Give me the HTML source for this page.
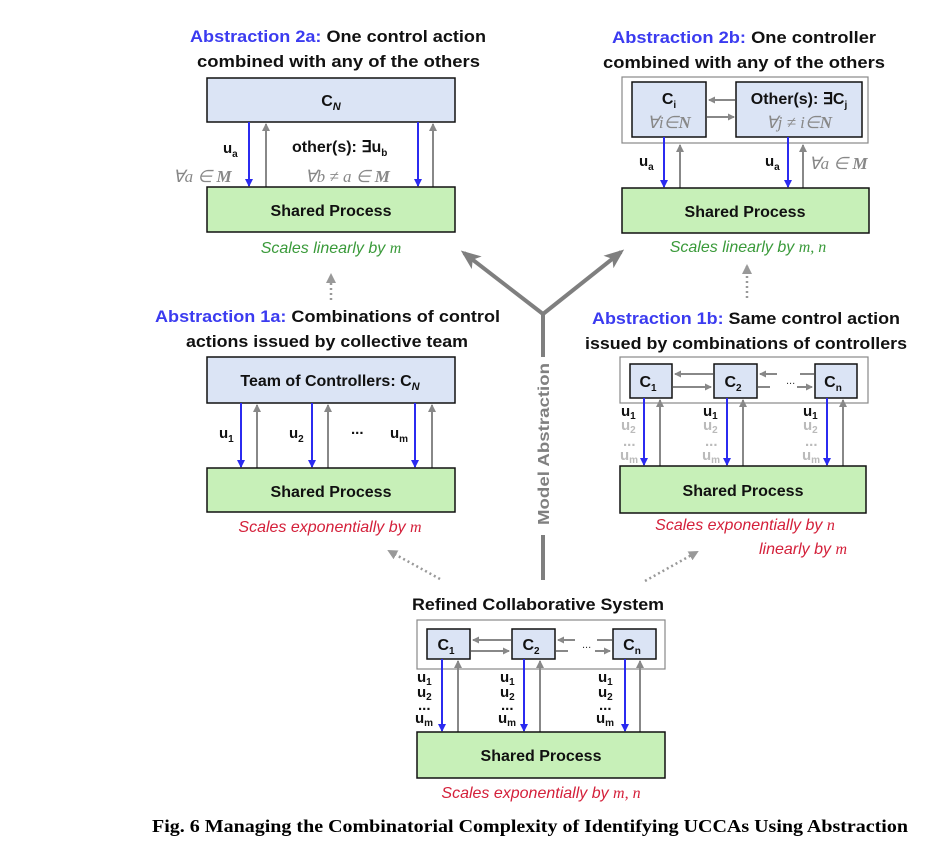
<!DOCTYPE html>
<html><head><meta charset="utf-8"><style>
html,body{margin:0;padding:0;background:#fff;}
svg{display:block;}
.t{font-family:"Liberation Sans",sans-serif;font-weight:bold;font-size:17px;fill:#111;}
.b{fill:#3b3bf0;}
.box{font-family:"Liberation Sans",sans-serif;font-weight:bold;font-size:16px;fill:#111;}
.sc{font-family:"Liberation Sans",sans-serif;font-style:italic;font-size:16px;}
.m{font-family:"Liberation Serif",serif;font-style:italic;font-size:17px;fill:#888;}
.u{font-family:"Liberation Sans",sans-serif;font-weight:bold;font-size:15px;fill:#111;}
.ug{font-family:"Liberation Sans",sans-serif;font-weight:bold;font-size:15px;fill:#bbb;}
</style></head><body>
<svg width="933" height="841" viewBox="0 0 933 841" xmlns="http://www.w3.org/2000/svg">
<defs>
<marker id="ab" markerWidth="8" markerHeight="8" refX="7" refY="4" orient="auto" markerUnits="userSpaceOnUse" viewBox="0 0 8 8"><path d="M0,0 L8,4 L0,8z" fill="#2b2bf0"/></marker>
<marker id="ag" markerWidth="8" markerHeight="8" refX="7" refY="4" orient="auto" markerUnits="userSpaceOnUse" viewBox="0 0 8 8"><path d="M0,0 L8,4 L0,8z" fill="#888"/></marker>
<marker id="ah" markerWidth="7" markerHeight="7" refX="6" refY="3.5" orient="auto" markerUnits="userSpaceOnUse" viewBox="0 0 7 7"><path d="M0,0 L7,3.5 L0,7z" fill="#888"/></marker>
<marker id="big" markerWidth="20" markerHeight="16" refX="16" refY="8" orient="auto" markerUnits="userSpaceOnUse" viewBox="0 0 20 16"><path d="M0,0 L20,8 L0,16 L5,8z" fill="#7f7f7f"/></marker>
<marker id="dot" markerWidth="10" markerHeight="10" refX="8" refY="5" orient="auto" markerUnits="userSpaceOnUse" viewBox="0 0 10 10"><path d="M0,0 L10,5 L0,10z" fill="#999"/></marker>
</defs>

<!-- ===== 2a ===== -->
<text class="t" x="190" y="42" textLength="296" lengthAdjust="spacingAndGlyphs"><tspan class="b">Abstraction 2a:</tspan> One control action</text>
<text class="t" x="197" y="67" textLength="283" lengthAdjust="spacingAndGlyphs">combined with any of the others</text>
<rect x="207" y="78" width="248" height="44" fill="#dbe4f5" stroke="#111" stroke-width="1.5"/>
<text class="box" x="331" y="106" text-anchor="middle">C<tspan font-size="11" dy="4" font-style="italic">N</tspan></text>
<line x1="249" y1="122" x2="249" y2="186" stroke="#2b2bf0" stroke-width="2" marker-end="url(#ab)"/>
<line x1="266" y1="187" x2="266" y2="124" stroke="#888" stroke-width="2" marker-end="url(#ag)"/>
<line x1="418" y1="122" x2="418" y2="186" stroke="#2b2bf0" stroke-width="2" marker-end="url(#ab)"/>
<line x1="433" y1="187" x2="433" y2="124" stroke="#888" stroke-width="2" marker-end="url(#ag)"/>
<text class="u" x="223" y="153">u<tspan font-size="10" dy="4">a</tspan></text>
<text class="m" x="173" y="182">∀a ∈ <tspan font-weight="bold">M</tspan></text>
<text class="box" x="292" y="152" font-size="17">other(s): ∃u<tspan font-size="10" dy="4">b</tspan></text>
<text class="m" x="305" y="182">∀b ≠ a ∈ <tspan font-weight="bold">M</tspan></text>
<rect x="207" y="187" width="248" height="45" fill="#c7f0b8" stroke="#111" stroke-width="1.5"/>
<text class="box" x="331" y="216" text-anchor="middle">Shared Process</text>
<text class="sc" x="331" y="253" text-anchor="middle" fill="#3a9a3a">Scales linearly by <tspan font-family="Liberation Serif">m</tspan></text>

<!-- ===== 2b ===== -->
<text class="t" x="612" y="43" textLength="264" lengthAdjust="spacingAndGlyphs"><tspan class="b">Abstraction 2b:</tspan> One controller</text>
<text class="t" x="603" y="68" textLength="282" lengthAdjust="spacingAndGlyphs">combined with any of the others</text>
<rect x="622" y="77" width="246" height="66" fill="#fff" stroke="#888" stroke-width="1.2"/>
<rect x="632" y="82" width="74" height="55" fill="#dbe4f5" stroke="#111" stroke-width="1.5"/>
<rect x="736" y="82" width="126" height="55" fill="#dbe4f5" stroke="#111" stroke-width="1.5"/>
<text class="box" x="669" y="104" text-anchor="middle">C<tspan font-size="10" dy="4">i</tspan></text>
<text class="m" x="669" y="128" text-anchor="middle">∀i∈<tspan font-weight="bold">N</tspan></text>
<text class="box" x="799" y="104" text-anchor="middle">Other(s): ∃C<tspan font-size="10" dy="4">j</tspan></text>
<text class="m" x="799" y="128" text-anchor="middle">∀j ≠ i∈<tspan font-weight="bold">N</tspan></text>
<line x1="735" y1="100" x2="709" y2="100" stroke="#888" stroke-width="2" marker-end="url(#ah)"/>
<line x1="707" y1="117" x2="734" y2="117" stroke="#888" stroke-width="2" marker-end="url(#ah)"/>
<line x1="664" y1="137" x2="664" y2="187" stroke="#2b2bf0" stroke-width="2" marker-end="url(#ab)"/>
<line x1="680" y1="188" x2="680" y2="145" stroke="#888" stroke-width="2" marker-end="url(#ag)"/>
<line x1="788" y1="137" x2="788" y2="187" stroke="#2b2bf0" stroke-width="2" marker-end="url(#ab)"/>
<line x1="803" y1="188" x2="803" y2="145" stroke="#888" stroke-width="2" marker-end="url(#ag)"/>
<text class="u" x="639" y="166">u<tspan font-size="10" dy="4">a</tspan></text>
<text class="u" x="765" y="166">u<tspan font-size="10" dy="4">a</tspan></text>
<text class="m" x="809" y="169">∀a ∈ <tspan font-weight="bold">M</tspan></text>
<rect x="622" y="188" width="247" height="45" fill="#c7f0b8" stroke="#111" stroke-width="1.5"/>
<text class="box" x="745" y="217" text-anchor="middle">Shared Process</text>
<text class="sc" x="748" y="252" text-anchor="middle" fill="#3a9a3a">Scales linearly by <tspan font-family="Liberation Serif">m, n</tspan></text>

<!-- dotted up arrows -->
<line x1="331" y1="300" x2="331" y2="275" stroke="#999" stroke-width="2.5" stroke-dasharray="2,3" marker-end="url(#dot)"/>
<line x1="747" y1="298" x2="747" y2="266" stroke="#999" stroke-width="2.5" stroke-dasharray="2,3" marker-end="url(#dot)"/>

<!-- Y abstraction -->
<line x1="543" y1="314" x2="464" y2="253" stroke="#7f7f7f" stroke-width="4" marker-end="url(#big)"/>
<line x1="543" y1="314" x2="621" y2="252" stroke="#7f7f7f" stroke-width="4" marker-end="url(#big)"/>
<line x1="543" y1="312" x2="543" y2="357" stroke="#7f7f7f" stroke-width="4"/>
<line x1="543" y1="535" x2="543" y2="580" stroke="#7f7f7f" stroke-width="4"/>
<text x="0" y="0" transform="translate(549,444) rotate(-90)" text-anchor="middle" font-family="Liberation Sans,sans-serif" font-weight="bold" font-size="16" fill="#808080" textLength="162" lengthAdjust="spacingAndGlyphs">Model Abstraction</text>

<!-- ===== 1a ===== -->
<text class="t" x="155" y="322" textLength="345" lengthAdjust="spacingAndGlyphs"><tspan class="b">Abstraction 1a:</tspan> Combinations of control</text>
<text class="t" x="186" y="347" textLength="282" lengthAdjust="spacingAndGlyphs">actions issued by collective team</text>
<rect x="207" y="357" width="248" height="46" fill="#dbe4f5" stroke="#111" stroke-width="1.5"/>
<text class="box" x="330" y="386" text-anchor="middle">Team of Controllers: C<tspan font-size="11" dy="4" font-style="italic">N</tspan></text>
<line x1="241" y1="403" x2="241" y2="467" stroke="#2b2bf0" stroke-width="2" marker-end="url(#ab)"/>
<line x1="257" y1="468" x2="257" y2="405" stroke="#888" stroke-width="2" marker-end="url(#ag)"/>
<line x1="312" y1="403" x2="312" y2="467" stroke="#2b2bf0" stroke-width="2" marker-end="url(#ab)"/>
<line x1="328" y1="468" x2="328" y2="405" stroke="#888" stroke-width="2" marker-end="url(#ag)"/>
<line x1="415" y1="403" x2="415" y2="467" stroke="#2b2bf0" stroke-width="2" marker-end="url(#ab)"/>
<line x1="432" y1="468" x2="432" y2="405" stroke="#888" stroke-width="2" marker-end="url(#ag)"/>
<text class="u" x="219" y="438">u<tspan font-size="10" dy="4">1</tspan></text>
<text class="u" x="289" y="438">u<tspan font-size="10" dy="4">2</tspan></text>
<text class="u" x="351" y="434">...</text>
<text class="u" x="390" y="438">u<tspan font-size="10" dy="4">m</tspan></text>
<rect x="207" y="468" width="248" height="44" fill="#c7f0b8" stroke="#111" stroke-width="1.5"/>
<text class="box" x="331" y="497" text-anchor="middle">Shared Process</text>
<text class="sc" x="330" y="532" text-anchor="middle" fill="#d4203a">Scales exponentially by <tspan font-family="Liberation Serif">m</tspan></text>

<!-- ===== 1b ===== -->
<text class="t" x="592" y="324" textLength="308" lengthAdjust="spacingAndGlyphs"><tspan class="b">Abstraction 1b:</tspan> Same control action</text>
<text class="t" x="585" y="349" textLength="322" lengthAdjust="spacingAndGlyphs">issued by combinations of controllers</text>
<rect x="620" y="357" width="248" height="46" fill="#fff" stroke="#888" stroke-width="1.2"/>
<rect x="630" y="364" width="42" height="34" fill="#dbe4f5" stroke="#111" stroke-width="1.5"/>
<rect x="714" y="364" width="43" height="34" fill="#dbe4f5" stroke="#111" stroke-width="1.5"/>
<rect x="815" y="364" width="42" height="34" fill="#dbe4f5" stroke="#111" stroke-width="1.5"/>
<text class="box" x="648" y="387" text-anchor="middle">C<tspan font-size="10" dy="4">1</tspan></text>
<text class="box" x="733" y="387" text-anchor="middle">C<tspan font-size="10" dy="4">2</tspan></text>
<text class="box" x="833" y="387" text-anchor="middle">C<tspan font-size="10" dy="4">n</tspan></text>
<line x1="713" y1="374" x2="675" y2="374" stroke="#888" stroke-width="2" marker-end="url(#ah)"/>
<line x1="673" y1="387" x2="711" y2="387" stroke="#888" stroke-width="2" marker-end="url(#ah)"/>
<line x1="777" y1="374" x2="760" y2="374" stroke="#888" stroke-width="2" marker-end="url(#ah)"/>
<line x1="758" y1="387" x2="770" y2="387" stroke="#888" stroke-width="2"/>
<text x="786" y="384" font-family="Liberation Sans" font-size="11" fill="#333">...</text>
<line x1="814" y1="374" x2="800" y2="374" stroke="#888" stroke-width="2"/>
<line x1="797" y1="387" x2="812" y2="387" stroke="#888" stroke-width="2" marker-end="url(#ah)"/>
<g>
<line x1="644" y1="398" x2="644" y2="465" stroke="#2b2bf0" stroke-width="2" marker-end="url(#ab)"/>
<line x1="660" y1="466" x2="660" y2="400" stroke="#888" stroke-width="2" marker-end="url(#ag)"/>
<line x1="727" y1="398" x2="727" y2="465" stroke="#2b2bf0" stroke-width="2" marker-end="url(#ab)"/>
<line x1="743" y1="466" x2="743" y2="400" stroke="#888" stroke-width="2" marker-end="url(#ag)"/>
<line x1="827" y1="398" x2="827" y2="465" stroke="#2b2bf0" stroke-width="2" marker-end="url(#ab)"/>
<line x1="843" y1="466" x2="843" y2="400" stroke="#888" stroke-width="2" marker-end="url(#ag)"/>
</g>
<g>
<text class="u" x="621" y="416">u<tspan font-size="10" dy="3">1</tspan></text>
<text class="ug" x="621" y="430">u<tspan font-size="10" dy="3">2</tspan></text>
<text class="ug" x="623" y="446" font-size="10">...</text>
<text class="ug" x="620" y="460">u<tspan font-size="10" dy="3">m</tspan></text>
<text class="u" x="703" y="416">u<tspan font-size="10" dy="3">1</tspan></text>
<text class="ug" x="703" y="430">u<tspan font-size="10" dy="3">2</tspan></text>
<text class="ug" x="705" y="446" font-size="10">...</text>
<text class="ug" x="702" y="460">u<tspan font-size="10" dy="3">m</tspan></text>
<text class="u" x="803" y="416">u<tspan font-size="10" dy="3">1</tspan></text>
<text class="ug" x="803" y="430">u<tspan font-size="10" dy="3">2</tspan></text>
<text class="ug" x="805" y="446" font-size="10">...</text>
<text class="ug" x="802" y="460">u<tspan font-size="10" dy="3">m</tspan></text>
</g>
<rect x="620" y="466" width="246" height="47" fill="#c7f0b8" stroke="#111" stroke-width="1.5"/>
<text class="box" x="743" y="496" text-anchor="middle">Shared Process</text>
<text class="sc" x="745" y="530" text-anchor="middle" fill="#d4203a">Scales exponentially by <tspan font-family="Liberation Serif">n</tspan></text>
<text class="sc" x="847" y="554" text-anchor="end" fill="#d4203a">linearly by <tspan font-family="Liberation Serif">m</tspan></text>

<!-- dotted diagonal arrows -->
<line x1="440" y1="579" x2="389" y2="551" stroke="#999" stroke-width="2.5" stroke-dasharray="2,3" marker-end="url(#dot)"/>
<line x1="645" y1="581" x2="697" y2="552" stroke="#999" stroke-width="2.5" stroke-dasharray="2,3" marker-end="url(#dot)"/>

<!-- ===== Refined ===== -->
<text class="t" x="412" y="610" textLength="252" lengthAdjust="spacingAndGlyphs">Refined Collaborative System</text>
<rect x="417" y="620" width="248" height="49" fill="#fff" stroke="#888" stroke-width="1.2"/>
<rect x="427" y="629" width="43" height="30" fill="#dbe4f5" stroke="#111" stroke-width="1.5"/>
<rect x="512" y="629" width="43" height="30" fill="#dbe4f5" stroke="#111" stroke-width="1.5"/>
<rect x="613" y="629" width="43" height="30" fill="#dbe4f5" stroke="#111" stroke-width="1.5"/>
<text class="box" x="446" y="650" text-anchor="middle">C<tspan font-size="10" dy="4">1</tspan></text>
<text class="box" x="531" y="650" text-anchor="middle">C<tspan font-size="10" dy="4">2</tspan></text>
<text class="box" x="632" y="650" text-anchor="middle">C<tspan font-size="10" dy="4">n</tspan></text>
<line x1="511" y1="640" x2="473" y2="640" stroke="#888" stroke-width="2" marker-end="url(#ah)"/>
<line x1="471" y1="651" x2="509" y2="651" stroke="#888" stroke-width="2" marker-end="url(#ah)"/>
<line x1="575" y1="640" x2="558" y2="640" stroke="#888" stroke-width="2" marker-end="url(#ah)"/>
<line x1="556" y1="651" x2="568" y2="651" stroke="#888" stroke-width="2"/>
<text x="582" y="648" font-family="Liberation Sans" font-size="11" fill="#333">...</text>
<line x1="612" y1="640" x2="597" y2="640" stroke="#888" stroke-width="2"/>
<line x1="595" y1="651" x2="610" y2="651" stroke="#888" stroke-width="2" marker-end="url(#ah)"/>
<line x1="442" y1="659" x2="442" y2="731" stroke="#2b2bf0" stroke-width="2" marker-end="url(#ab)"/>
<line x1="458" y1="732" x2="458" y2="661" stroke="#888" stroke-width="2" marker-end="url(#ag)"/>
<line x1="524" y1="659" x2="524" y2="731" stroke="#2b2bf0" stroke-width="2" marker-end="url(#ab)"/>
<line x1="540" y1="732" x2="540" y2="661" stroke="#888" stroke-width="2" marker-end="url(#ag)"/>
<line x1="625" y1="659" x2="625" y2="731" stroke="#2b2bf0" stroke-width="2" marker-end="url(#ab)"/>
<line x1="640" y1="732" x2="640" y2="661" stroke="#888" stroke-width="2" marker-end="url(#ag)"/>
<g>
<text class="u" x="417" y="682">u<tspan font-size="10" dy="3">1</tspan></text>
<text class="u" x="417" y="697">u<tspan font-size="10" dy="3">2</tspan></text>
<text class="u" x="418" y="710" font-size="11">...</text>
<text class="u" x="415" y="723">u<tspan font-size="10" dy="3">m</tspan></text>
<text class="u" x="500" y="682">u<tspan font-size="10" dy="3">1</tspan></text>
<text class="u" x="500" y="697">u<tspan font-size="10" dy="3">2</tspan></text>
<text class="u" x="501" y="710" font-size="11">...</text>
<text class="u" x="498" y="723">u<tspan font-size="10" dy="3">m</tspan></text>
<text class="u" x="598" y="682">u<tspan font-size="10" dy="3">1</tspan></text>
<text class="u" x="598" y="697">u<tspan font-size="10" dy="3">2</tspan></text>
<text class="u" x="599" y="710" font-size="11">...</text>
<text class="u" x="596" y="723">u<tspan font-size="10" dy="3">m</tspan></text>
</g>
<rect x="417" y="732" width="248" height="46" fill="#c7f0b8" stroke="#111" stroke-width="1.5"/>
<text class="box" x="541" y="761" text-anchor="middle">Shared Process</text>
<text class="sc" x="541" y="798" text-anchor="middle" fill="#d4203a">Scales exponentially by <tspan font-family="Liberation Serif">m, n</tspan></text>

<!-- caption -->
<text x="152" y="832" font-family="Liberation Serif,serif" font-weight="bold" font-size="18" fill="#000" textLength="756" lengthAdjust="spacingAndGlyphs">Fig. 6 Managing the Combinatorial Complexity of Identifying UCCAs Using Abstraction</text>
</svg>
</body></html>
